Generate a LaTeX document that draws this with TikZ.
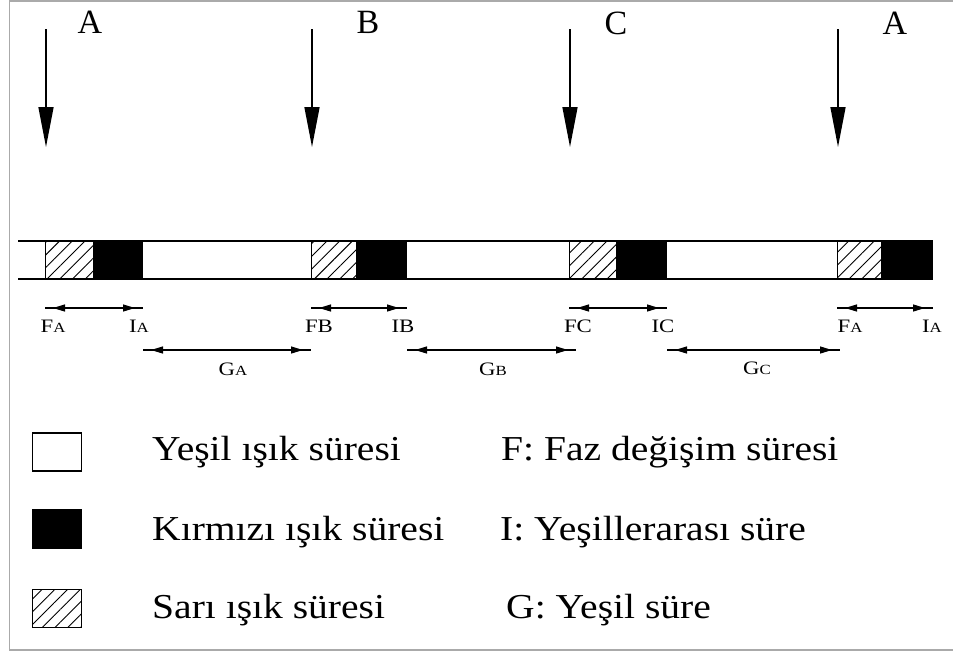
\documentclass[tikz,border=0pt]{standalone}
\usepackage{fontspec}
\setmainfont{Liberation Serif}
\newfontfamily\legfont[FakeStretch=1.13]{Liberation Serif}
\newfontfamily\lblfont[FakeStretch=1.2]{Liberation Serif}
\usetikzlibrary{arrows.meta,positioning,patterns.meta}
\definecolor{framegray}{RGB}{170,170,170}
\newcommand{\sublbl}[2]{#1{\fontsize{14}{14}\selectfont#2}}

\tikzset{
  barline/.style={line width=1.6pt},
  hatch/.style={draw,line width=1pt,pattern={Lines[angle=45,distance=9pt,line width=0.9pt]}},
  sigarrow/.style={line width=1.5pt,-{Triangle[length=40pt,width=15pt]}},
  dim/.style={line width=1.3pt,postaction={draw,{Triangle[length=12pt,width=7pt]}-{Triangle[length=12pt,width=7pt]},shorten <=8pt,shorten >=8pt}},
  phase/.style={font=\fontsize{34}{36}\selectfont},
  dimlbl/.style={font=\lblfont\fontsize{19}{20}\selectfont},
  legbox/.style={draw,line width=1.5pt,minimum width=49pt,minimum height=38pt,inner sep=0pt},
  legtxt/.style={anchor=west,inner sep=0pt,font=\legfont\fontsize{35}{38}\selectfont}
}

\begin{document}
\begin{tikzpicture}[x=1pt,y=-1pt]
  \useasboundingbox (0,0) rectangle (953,657);
  % frame
  \draw[framegray,line width=1.5pt] (953,1) -- (9.5,1) -- (9.5,650) -- (953,650);

  % time bar
  \draw[barline] (18,241) -- (933,241);
  \draw[barline] (18,279) -- (933,279);
  \foreach \h/\b/\e [count=\i] in {45/93/143,311/356/407,569/616/667,837/881/933}{
    \path[hatch] (\h,241) rectangle (\b,279);
    \fill (\b,240.2) rectangle (\e,279.8);
    \coordinate (f\i) at (\h,308);
    \coordinate (i\i) at (\e,308);
    \coordinate (g\i) at (\e,350);
    \coordinate (top\i) at (\h+1,29);
    \coordinate (tip\i) at (\h+1,147);
    \draw[sigarrow] (top\i) -- (tip\i);
    \draw[dim] (f\i) -- (i\i);
  }
  \coordinate (gend1) at (311,350);
  \coordinate (gend2) at (576,350);
  \coordinate (gend3) at (840,350);
  \foreach \i in {1,2,3} \draw[dim] (g\i) -- (gend\i);

  % phase names
  \node[phase] (pA) at (90,22) {A};
  \node[phase] (pB) at (368,22) {B};
  \node[phase] (pC) at (616,23) {C};
  \node[phase] (pA2) at (895,23) {A};

  % interval labels
  \node[dimlbl] (lfa) at (53,326) {\sublbl{F}{A}};
  \node[dimlbl] (lia) at (139,326) {\sublbl{I}{A}};
  \node[dimlbl] (lfb) at (319,326) {FB};
  \node[dimlbl] (lib) at (403,326) {IB};
  \node[dimlbl] (lfc) at (578,326) {FC};
  \node[dimlbl] (lic) at (663,326) {IC};
  \node[dimlbl] (lfa2) at (850,326) {\sublbl{F}{A}};
  \node[dimlbl] (lia2) at (932,326) {\sublbl{I}{A}};
  \node[dimlbl] (lga) at (233,369) {\sublbl{G}{A}};
  \node[dimlbl] (lgb) at (493,369) {\sublbl{G}{B}};
  \node[dimlbl] (lgc) at (757,368) {\sublbl{G}{C}};

  % legend
  \node[legbox,fill=white] (kgreen) at (57,452) {};
  \node[legbox,fill=black] (kred) at (57,529) {};
  \node[legbox,hatch] (kyel) at (57,608) {};
  \node[legtxt] (tgreen) at (152,452) {Yeşil ışık süresi};
  \node[legtxt] (tred) at (152,532) {Kırmızı ışık süresi};
  \node[legtxt] (tyel) at (152,610) {Sarı ışık süresi};
  \node[legtxt] (tf) at (501,452) {F: Faz değişim süresi};
  \node[legtxt] (ti) at (500,532) {I: Yeşillerarası süre};
  \node[legtxt] (tg) at (506,610) {G: Yeşil süre};
\end{tikzpicture}
\end{document}
